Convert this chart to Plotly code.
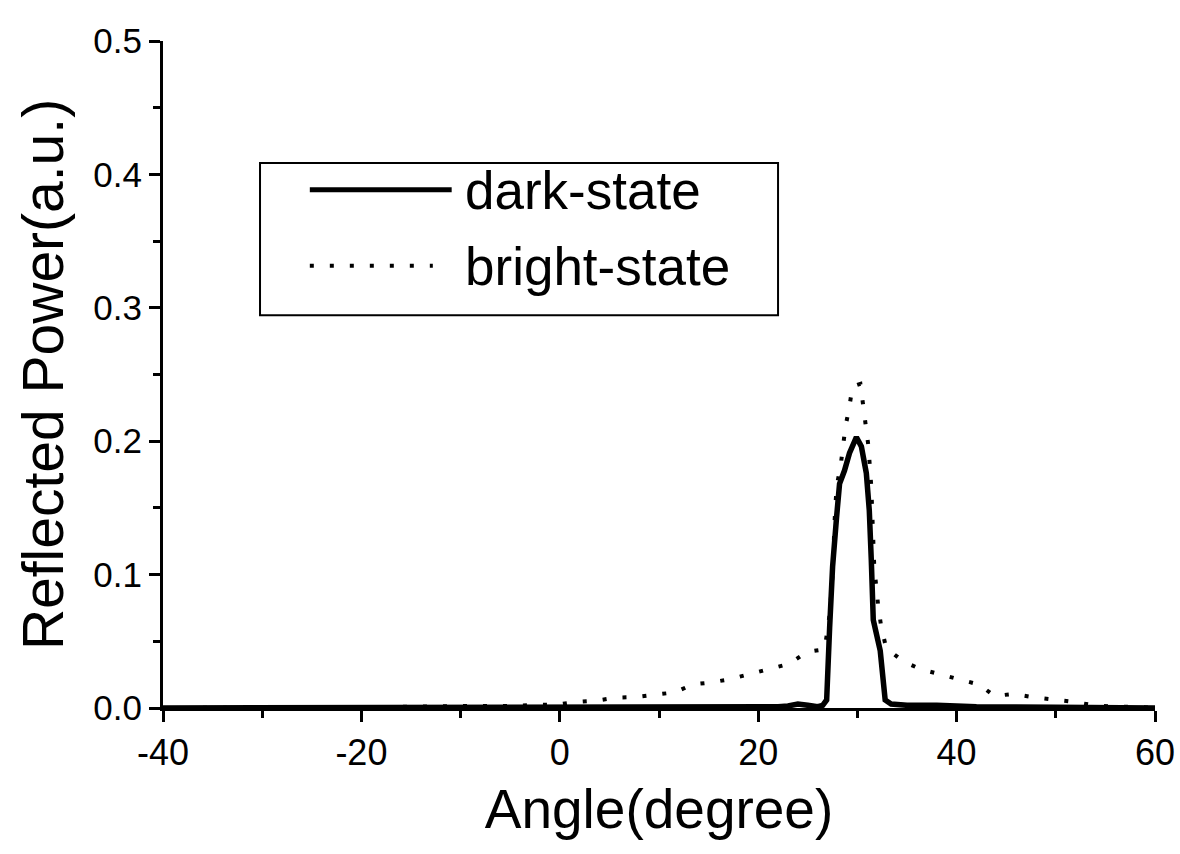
import plotly.graph_objects as go

# ---- data ----
dark_x = [-40, -30, -20, -10, 0, 10, 15, 20, 22, 23, 24, 25, 25.5, 26, 26.5, 26.9,
          27.2, 27.5, 27.9, 28.2, 28.7, 29.2, 29.9, 30.4, 30.9, 31.2, 31.4, 31.6,
          32.3, 32.8, 33.4, 35, 38, 42, 50, 60]
dark_y = [0, 0, 0, 0, 0, 0, 0.0005, 0.001, 0.001, 0.0015, 0.003, 0.002, 0.001, 0.001,
          0.002, 0.006, 0.06, 0.106, 0.143, 0.168, 0.178, 0.191, 0.203, 0.196, 0.176,
          0.148, 0.111, 0.066, 0.043, 0.006, 0.003, 0.002, 0.002, 0.001, 0.0005, 0]

bright_x = [-40, -30, -20, -10.4, -8.2, -6.2, -4.3, -2.3, -0.3, 1.7, 3.7, 5.6, 7.6, 9.6,
            11.6, 13.4, 15.1, 17.1, 19.2, 21.1, 23.1, 24.9, 26.7, 27.2, 27.5, 27.7,
            27.9, 28.3, 28.5, 28.8, 29.2, 29.5, 30.3, 30.6, 30.8, 31.1, 31.4, 31.6,
            31.7, 32.1, 32.4, 32.9, 34.6, 36.4, 38.4, 40.4, 42.3, 43.8, 45.7, 47.8,
            49.7, 51.7, 53.7, 55.7, 57.7, 60]
bright_y = [0, 0, 0.0005, 0.0015, 0.0015, 0.002, 0.0015, 0.0025, 0.0025, 0.0045, 0.0055,
            0.0077, 0.0082, 0.010, 0.0117, 0.0177, 0.019, 0.0215, 0.0255, 0.0285, 0.033,
            0.042, 0.044, 0.07, 0.10, 0.14, 0.166, 0.181, 0.196, 0.211, 0.226, 0.241,
            0.243, 0.227, 0.212, 0.197, 0.166, 0.136, 0.106, 0.076, 0.061, 0.045, 0.035,
            0.029, 0.025, 0.021, 0.0175, 0.009, 0.0105, 0.008, 0.0067, 0.0047, 0.0022,
            0.001, 0.001, 0]

x_ticks = [-40, -20, 0, 20, 40, 60]
y_ticks = [0.0, 0.1, 0.2, 0.3, 0.4, 0.5]
series_names = ["dark-state", "bright-state"]

FONT = "Liberation Sans, Arial, sans-serif"
DOT = "4px,16px"

fig = go.Figure()
fig.add_trace(go.Scatter(x=bright_x, y=bright_y, mode="lines", name=series_names[1],
                         line=dict(color="black", width=4, dash=DOT),
                         cliponaxis=False, showlegend=False))
fig.add_trace(go.Scatter(x=dark_x, y=dark_y, mode="lines", name=series_names[0],
                         line=dict(color="black", width=5.5),
                         cliponaxis=False, showlegend=False))

# manual legend (box, sample lines, labels)
fig.add_shape(type="rect", xref="paper", yref="paper", x0=0.0978, x1=0.62, y0=0.589, y1=0.817,
              line=dict(color="black", width=2), fillcolor="white", layer="below")
fig.add_shape(type="line", xref="paper", yref="paper", x0=0.148, x1=0.291, y0=0.777, y1=0.777,
              line=dict(color="black", width=5))
fig.add_shape(type="line", xref="paper", yref="paper", x0=0.148, x1=0.272, y0=0.663, y1=0.663,
              line=dict(color="black", width=4, dash=DOT))
fig.add_annotation(xref="paper", yref="paper", x=0.302, y=0.776, text=series_names[0],
                   showarrow=False, xanchor="left", yanchor="middle",
                   font=dict(family=FONT, size=53, color="black"))
fig.add_annotation(xref="paper", yref="paper", x=0.302, y=0.662, text=series_names[1],
                   showarrow=False, xanchor="left", yanchor="middle",
                   font=dict(family=FONT, size=53, color="black"))

fig.update_layout(
    width=1180, height=854,
    margin=dict(l=163, r=25, t=41, b=146, autoexpand=False),
    paper_bgcolor="white", plot_bgcolor="white",
    font=dict(family=FONT, color="black"),
    showlegend=False,
    xaxis=dict(range=[-40, 60], tickvals=x_ticks, ticktext=[str(v) for v in x_ticks],
               ticks="outside", ticklen=11, tickwidth=2.5, tickcolor="black",
               minor=dict(dtick=10, tick0=0, ticks="outside", ticklen=7, tickwidth=2.5, tickcolor="black"),
               showline=True, linewidth=3, linecolor="black", showgrid=False, zeroline=False,
               automargin=False, ticklabeloverflow="allow",
               tickfont=dict(size=36), title=dict(text="Angle(degree)", font=dict(size=55), standoff=18)),
    yaxis=dict(range=[0, 0.5], tickvals=y_ticks, ticktext=[f"{v:.1f}" for v in y_ticks],
               ticks="outside", ticklen=11, tickwidth=2.5, tickcolor="black",
               minor=dict(dtick=0.05, tick0=0, ticks="outside", ticklen=7, tickwidth=2.5, tickcolor="black"),
               showline=True, linewidth=3, linecolor="black", showgrid=False, zeroline=False,
               automargin=False, ticklabeloverflow="allow",
               tickfont=dict(size=35), title=dict(text="Reflected Power(a.u.)", font=dict(size=57), standoff=12)),
)

fig.write_html("out.html", config={"displayModeBar": False},
               post_script="document.body.style.margin='0';")
